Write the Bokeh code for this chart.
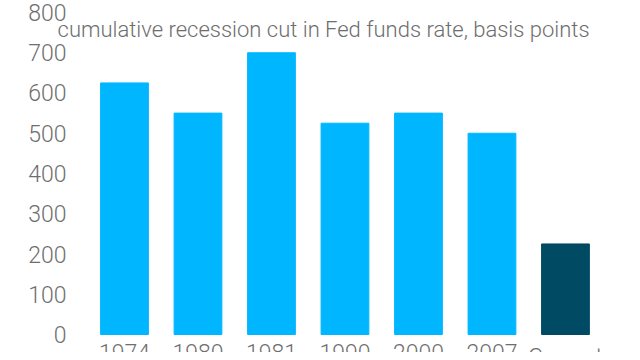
from bokeh.plotting import figure
from bokeh.models import Range1d, ColumnDataSource
from bokeh.core.properties import value
from bokeh.embed import file_html
from bokeh.resources import INLINE

categories = ["1974", "1980", "1981", "1990", "2000", "2007", "Current"]
cuts = [625, 550, 700, 525, 550, 500, 225]
colors = ["#00B7FF", "#00B7FF", "#00B7FF", "#00B7FF", "#00B7FF", "#00B7FF", "#004A63"]
y_ticks = [0, 100, 200, 300, 400, 500, 600, 700, 800]
title_text = "cumulative recession cut in Fed funds rate, basis points"

FONT = "'Roboto Light', 'Roboto', sans-serif"
TXT = "#6E6E6E"

pos = list(range(len(categories)))
src = ColumnDataSource(dict(x=pos, cat=categories, v=cuts, c=colors,
                            ly=[-24.8] * len(categories)))
tick_src = ColumnDataSource(dict(y=y_ticks, t=[str(t) for t in y_ticks],
                                 x=[-0.789] * len(y_ticks)))

p = figure(width=632, height=352, output_backend="svg", toolbar_location=None,
           x_range=Range1d(-1.687, 6.912), y_range=Range1d(-44.7, 829.8),
           x_axis_location=None, y_axis_location=None,
           min_border_left=0, min_border_right=0, min_border_top=0, min_border_bottom=0)
p.vbar(x="x", top="v", bottom=0, width=0.65, color="c", source=src)
# category labels (x axis)
p.text(x="x", y="ly", text="cat", source=src, text_align="center", text_baseline="top",
       text_font=value(FONT), text_font_size="23px", text_color=TXT)
# value labels (y axis)
p.text(x="x", y="y", text="t", source=tick_src, text_align="right", text_baseline="middle",
       text_font=value(FONT), text_font_size="23px", text_color=TXT)
# chart title
p.text(x=[-0.911], y=[757.8], text=[title_text], text_align="left", text_baseline="middle",
       text_font=value(FONT), text_font_size="22px", text_color=TXT)

p.outline_line_color = None
p.xgrid.grid_line_color = None
p.ygrid.grid_line_color = None

open("out.html", "w").write(file_html(p, INLINE))
